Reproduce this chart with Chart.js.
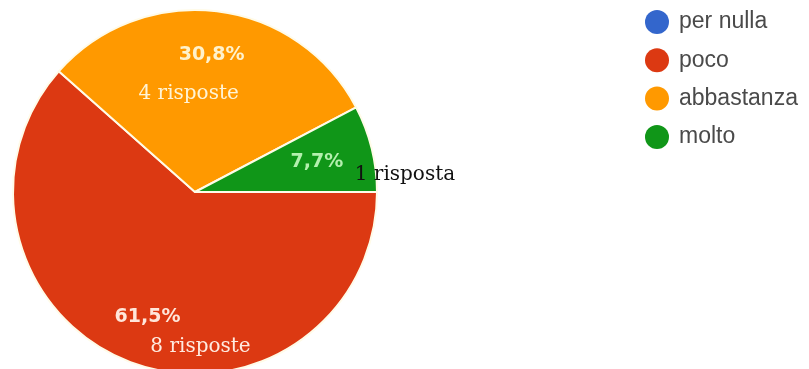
<!DOCTYPE html>
<html lang="it">
<head>
<meta charset="utf-8">
<title>Risposte</title>
<script src="https://cdn.jsdelivr.net/npm/chart.js@4.4.1/dist/chart.umd.min.js"></script>
<style>
  html, body { margin: 0; padding: 0; background: #fff; overflow: hidden; }
  #wrap { position: relative; width: 809px; height: 384px; }
</style>
</head>
<body>
<div id="wrap"><canvas id="risposteChart"></canvas></div>
<script>
// answers per option
const categories = ['per nulla', 'poco', 'abbastanza', 'molto'];
const answers = [0, 8, 4, 1];
const sliceColors = ['#3366cc', '#dc3912', '#ff9900', '#109618'];

// label styling, one entry per slice
const pctColors = ['#ffffff', '#ffe6da', '#fff2cc', '#b4f0ae'];
const countColors = ['#ffffff', '#ffeadf', '#fff4d6', '#111111'];
const labelRadius = [0.74, 0.736, 0.758, 0.69];
const countOffset = [[0, 0], [53, 30], [-23, 39], [88, 13]];

function formatPct(v, total) {
  return (v / total * 100).toFixed(1).replace('.', ',') + '%';
}

function formatCount(v) {
  return v === 1 ? '1 risposta' : v + ' risposte';
}

// percentage + count text on every slice
const sliceLabels = {
  id: 'sliceLabels',
  afterDatasetsDraw(chart) {
    const { ctx } = chart;
    const meta = chart.getDatasetMeta(0);
    const data = chart.data.datasets[0].data;
    const total = data.reduce((a, b) => a + b, 0);
    ctx.save();
    ctx.textAlign = 'center';
    ctx.textBaseline = 'middle';
    meta.data.forEach((arc, i) => {
      if (!data[i]) return;
      const { x, y, startAngle, endAngle, outerRadius } =
        arc.getProps(['x', 'y', 'startAngle', 'endAngle', 'outerRadius'], true);
      const mid = (startAngle + endAngle) / 2;
      const r = outerRadius * labelRadius[i];
      const px = x + Math.cos(mid) * r;
      const py = y + Math.sin(mid) * r;

      ctx.font = 'bold 19px "DejaVu Sans"';
      ctx.fillStyle = pctColors[i];
      ctx.fillText(formatPct(data[i], total), px, py);

      ctx.font = '20px "DejaVu Serif"';
      ctx.fillStyle = countColors[i];
      ctx.fillText(formatCount(data[i]), px + countOffset[i][0], py + countOffset[i][1]);
    });
    ctx.restore();
  }
};

// legend column on the right
const sideLegend = {
  id: 'sideLegend',
  afterDraw(chart) {
    const { ctx } = chart;
    const ds = chart.data.datasets[0];
    ctx.save();
    ctx.textBaseline = 'middle';
    ctx.textAlign = 'left';
    ctx.font = '23px "Liberation Sans", Arial, sans-serif';
    chart.data.labels.forEach((label, i) => {
      const cy = 22 + i * 38.3;
      ctx.beginPath();
      ctx.arc(657, cy, 12, 0, Math.PI * 2);
      ctx.fillStyle = ds.backgroundColor[i];
      ctx.fill();
      ctx.fillStyle = '#4a4a4a';
      ctx.fillText(label, 679, cy);
    });
    ctx.restore();
  }
};

new Chart(document.getElementById('risposteChart'), {
  type: 'pie',
  data: {
    labels: categories,
    datasets: [{
      data: answers,
      backgroundColor: sliceColors,
      borderColor: '#fffbe8',
      borderWidth: 2
    }]
  },
  options: {
    responsive: true,
    maintainAspectRatio: false,
    animation: false,
    rotation: 90,
    layout: {
      padding: { top: 9, bottom: 9, left: 12, right: 431 }
    },
    plugins: {
      legend: { display: false },
      tooltip: { enabled: false }
    }
  },
  plugins: [sliceLabels, sideLegend]
});
</script>
</body>
</html>
